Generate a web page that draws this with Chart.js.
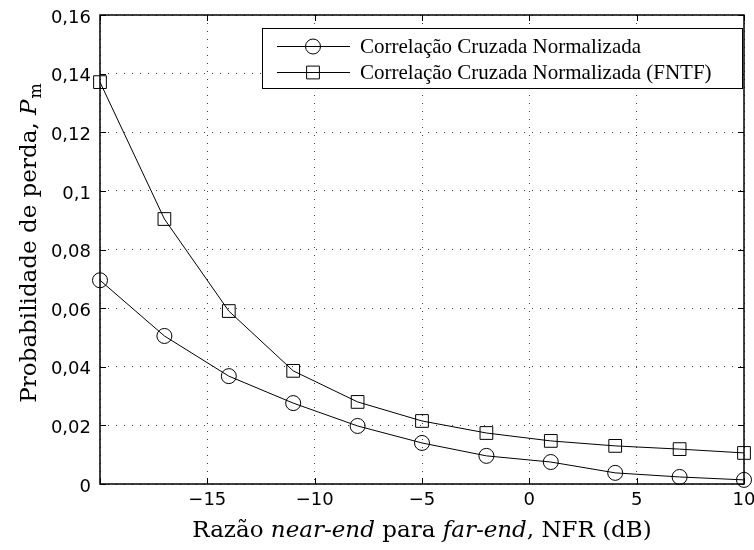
<!DOCTYPE html>
<html>
<head>
<meta charset="utf-8">
<script src="https://cdn.jsdelivr.net/npm/chart.js@4/dist/chart.umd.min.js"></script>
<style>
html, body { margin: 0; padding: 0; background: #fff; }
</style>
</head>
<body>
<canvas id="chart" width="754" height="550"></canvas>
<script>
const nfr = [-20, -17, -14, -11, -8, -5, -2, 1, 4, 7, 10];
const pmNorm = [0.0695, 0.0505, 0.0368, 0.0276, 0.0198, 0.0140, 0.0096, 0.0075, 0.0038, 0.0024, 0.0014];
const pmFntf = [0.1371, 0.0904, 0.0590, 0.0386, 0.0280, 0.0215, 0.0174, 0.0147, 0.0130, 0.0119, 0.0106];
const seriesNames = ['Correlação Cruzada Normalizada', 'Correlação Cruzada Normalizada (FNTF)'];
const xTitle = [['Razão ', ''], ['near-end', 'italic '], [' para ', ''], ['far-end', 'italic '], [', NFR (dB)', '']];
const yTitle = [['Probabilidade de perda, ', ''], ['P', 'italic ']];
const ySub = 'm';

const tickFont = { family: 'DejaVu Sans', size: 18 };
const serif = '"DejaVu Serif", serif';
const titleSize = 23;

function toPoints(values) {
	return nfr.map((v, i) => ({ x: v, y: values[i] }));
}

function drawSegs(ctx, segs, size) {
	let w = 0;
	segs.forEach(s => { ctx.font = s[1] + size + 'px ' + serif; w += ctx.measureText(s[0]).width; });
	return w;
}

function drawMarker(ctx, style, x, y) {
	ctx.beginPath();
	if (style === 'rect') ctx.rect(x - 6.4, y - 6.4, 12.8, 12.8);
	else ctx.arc(x, y, 7.5, 0, Math.PI * 2);
	ctx.stroke();
}

const frame = {
	id: 'frame',
	afterDatasetsDraw(chart) {
		const { ctx, chartArea: a, scales: { x, y } } = chart;
		ctx.save();
		ctx.strokeStyle = '#000';
		ctx.lineWidth = 1;
		ctx.beginPath();
		x.ticks.forEach(t => {
			const px = Math.round(x.getPixelForValue(t.value)) + 0.5;
			ctx.moveTo(px, a.bottom); ctx.lineTo(px, a.bottom - 6);
			ctx.moveTo(px, a.top); ctx.lineTo(px, a.top + 6);
		});
		y.ticks.forEach(t => {
			const py = Math.round(y.getPixelForValue(t.value)) + 0.5;
			ctx.moveTo(a.left, py); ctx.lineTo(a.left + 6, py);
			ctx.moveTo(a.right, py); ctx.lineTo(a.right - 6, py);
		});
		ctx.stroke();
		ctx.lineWidth = 1.5;
		ctx.strokeRect(a.left, a.top, a.width, a.height);
		ctx.restore();
	},
	afterDraw(chart) {
		const { ctx, chartArea: a } = chart;
		ctx.save();
		ctx.fillStyle = '#000';
		ctx.strokeStyle = '#000';
		ctx.textBaseline = 'alphabetic';

		// x title
		let w = drawSegs(ctx, xTitle, titleSize);
		let cx = (a.left + a.right) / 2 - w / 2;
		xTitle.forEach(s => {
			ctx.font = s[1] + titleSize + 'px ' + serif;
			ctx.fillText(s[0], cx, 537);
			cx += ctx.measureText(s[0]).width;
		});

		// y title, rotated
		ctx.save();
		ctx.translate(36, (a.top + a.bottom) / 2 - 6);
		ctx.rotate(-Math.PI / 2);
		ctx.font = Math.round(titleSize * 0.7) + 'px ' + serif;
		const subW = ctx.measureText(ySub).width;
		w = drawSegs(ctx, yTitle, titleSize) + subW;
		cx = -w / 2;
		yTitle.forEach(s => {
			ctx.font = s[1] + titleSize + 'px ' + serif;
			ctx.fillText(s[0], cx, 0);
			cx += ctx.measureText(s[0]).width;
		});
		ctx.font = Math.round(titleSize * 0.7) + 'px ' + serif;
		ctx.fillText(ySub, cx + 1, 5);
		ctx.restore();

		// legend
		ctx.fillStyle = '#fff';
		ctx.fillRect(262, 28, 480, 60);
		ctx.lineWidth = 1;
		ctx.strokeRect(262.5, 28.5, 480, 60);
		ctx.fillStyle = '#000';
		ctx.font = '21px "Liberation Serif", serif';
		ctx.textBaseline = 'middle';
		chart.data.datasets.forEach((ds, i) => {
			const ly = 46 + i * 26;
			ctx.beginPath();
			ctx.moveTo(277, ly + 0.5);
			ctx.lineTo(350, ly + 0.5);
			ctx.stroke();
			drawMarker(ctx, ds.pointStyle, 313, ly + 0.5);
			ctx.fillText(ds.label, 360, ly + 1);
		});
		ctx.restore();
	}
};

const gridOpts = {
	color: 'rgba(0,0,0,0.75)',
	lineWidth: 1,
	drawTicks: false
};

new Chart(document.getElementById('chart'), {
	type: 'line',
	data: {
		datasets: [{
			label: seriesNames[0],
			data: toPoints(pmNorm),
			borderColor: '#000',
			borderWidth: 1,
			pointStyle: 'circle',
			pointRadius: 7.5,
			pointBorderWidth: 1,
			pointBorderColor: '#000',
			pointBackgroundColor: 'rgba(0,0,0,0)',
			tension: 0,
			clip: false
		}, {
			label: seriesNames[1],
			data: toPoints(pmFntf),
			borderColor: '#000',
			borderWidth: 1,
			pointStyle: 'rect',
			pointRadius: 9,
			pointBorderWidth: 1,
			pointBorderColor: '#000',
			pointBackgroundColor: 'rgba(0,0,0,0)',
			tension: 0,
			clip: false
		}]
	},
	options: {
		responsive: false,
		animation: false,
		layout: { padding: { top: 15, right: 9, left: 0, bottom: 0 } },
		plugins: {
			legend: { display: false },
			tooltip: { enabled: false }
		},
		scales: {
			x: {
				type: 'linear',
				min: -20,
				max: 10,
				border: { display: false, dash: [1, 7] },
				grid: gridOpts,
				ticks: {
					stepSize: 5,
					color: '#000',
					font: tickFont,
					padding: 6,
					maxRotation: 0,
					callback: v => v === -20 ? '' : (v < 0 ? '\u2212' + Math.abs(v) : String(v))
				},
				afterFit(scale) {
					scale.height = 66;
					scale.paddingLeft = 0;
					scale.paddingRight = 0;
				}
			},
			y: {
				min: 0,
				max: 0.16,
				border: { display: false, dash: [1, 7] },
				grid: gridOpts,
				ticks: {
					stepSize: 0.02,
					color: '#000',
					font: tickFont,
					padding: 9,
					labelOffset: 3,
					callback: v => String(Number(v.toFixed(2))).replace('.', ',')
				},
				afterFit(scale) {
					scale.width = 100;
					scale.paddingTop = 0;
					scale.paddingBottom = 0;
				}
			}
		}
	},
	plugins: [frame]
});
</script>
</body>
</html>
